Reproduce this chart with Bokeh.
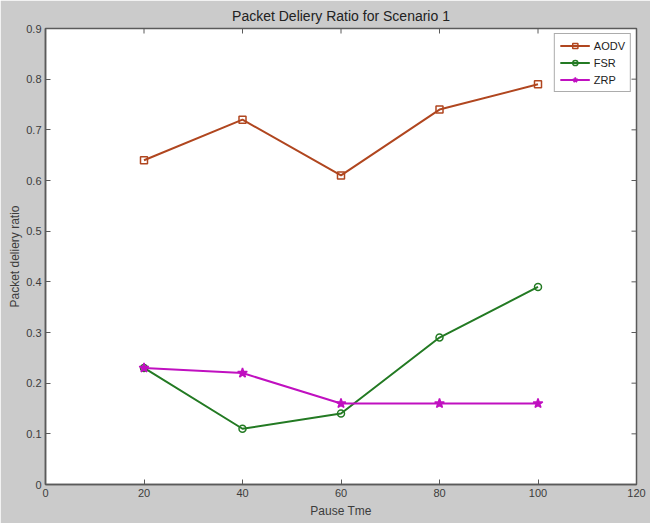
import math
from bokeh.plotting import figure
from bokeh.models import Legend, LegendItem, FixedTicker, Range1d
from bokeh.embed import file_html
from bokeh.resources import INLINE

pause_time = [20, 40, 60, 80, 100]
aodv = [0.64, 0.72, 0.61, 0.74, 0.79]
fsr = [0.23, 0.11, 0.14, 0.29, 0.39]
zrp = [0.23, 0.22, 0.16, 0.16, 0.16]
x_ticks = [0, 20, 40, 60, 80, 100, 120]
y_ticks = [0, 0.1, 0.2, 0.3, 0.4, 0.5, 0.6, 0.7, 0.8, 0.9]

FONT = "Liberation Sans"
BG = "#cbcbcb"
AX = "#5a5a5a"
TXT = "#3c3c3c"
X0, X1 = x_ticks[0], x_ticks[-1]
Y0, Y1 = y_ticks[0], y_ticks[-1]

p = figure(width=650, height=523, output_backend="svg", toolbar_location=None,
           x_range=Range1d(X0, X1), y_range=Range1d(Y0, Y1),
           min_border_left=45, min_border_right=14, min_border_top=25, min_border_bottom=39,
           background_fill_color="white", border_fill_color=BG,
           title="Packet Deliery Ratio for Scenario 1")
p.title.align = "center"
p.title.text_font = FONT
p.title.text_font_size = "14px"
p.title.text_font_style = "normal"
p.title.text_color = "#222222"
p.title.offset = 0
p.grid.visible = False
p.outline_line_color = AX
p.outline_line_width = 1.5

for ax in (p.xaxis[0], p.yaxis[0]):
    ax.axis_line_color = AX
    ax.axis_line_width = 1.5
    ax.major_tick_in = 5
    ax.major_tick_out = 0
    ax.minor_tick_line_color = None
    ax.major_tick_line_color = AX
    ax.major_label_text_font = FONT
    ax.major_label_text_font_size = "11px"
    ax.major_label_text_color = TXT
    ax.axis_label_text_font = FONT
    ax.axis_label_text_font_size = "12px"
    ax.axis_label_text_font_style = "normal"
    ax.axis_label_text_color = TXT

p.xaxis.ticker = FixedTicker(ticks=x_ticks)
p.yaxis.ticker = FixedTicker(ticks=y_ticks)
p.xaxis.axis_label = "Pause Tme"
p.yaxis.axis_label = "Packet deliery ratio"
p.yaxis.major_label_overrides = {t: ("0" if t == 0 else f"{t:.1f}") for t in y_ticks}
p.xaxis.major_label_standoff = 4
p.yaxis.major_label_standoff = 4
p.xaxis.axis_label_standoff = 4
p.yaxis.axis_label_standoff = 1

# mirrored inward ticks on top and right edges (MATLAB box style)
p.ray(x=x_ticks, y=[Y1] * len(x_ticks), angle=-math.pi / 2, length=5,
      length_units="screen", line_color=AX, line_width=1)
p.ray(x=[X1] * len(y_ticks), y=y_ticks, angle=math.pi, length=5,
      length_units="screen", line_color=AX, line_width=1)

series = [
    ("AODV", aodv, "#b0461f", "square"),
    ("FSR", fsr, "#237a23", "circle"),
    ("ZRP", zrp, "#c010c0", "star"),
]
items = []
for name, ys, col, mk in series:
    ln = p.line(pause_time, ys, line_color=col, line_width=2)
    sc = p.scatter(pause_time, ys, marker=mk, size=7 if mk != "star" else 10,
                   line_color=col, line_width=1.5,
                   fill_color=col if mk == "star" else "white",
                   fill_alpha=1 if mk == "star" else 0)
    items.append(LegendItem(label=name, renderers=[ln, sc]))

legend = Legend(items=items, location="top_right")
legend.label_text_font = FONT
legend.label_text_font_size = "11px"
legend.label_text_color = "#222222"
legend.border_line_color = AX
legend.border_line_width = 1
legend.glyph_width = 30
legend.glyph_height = 13
legend.label_height = 13
legend.spacing = 4
legend.padding = 5
legend.margin = 5
legend.label_standoff = 4
p.add_layout(legend, "center")

open("out.html", "w").write(file_html(p, INLINE))
